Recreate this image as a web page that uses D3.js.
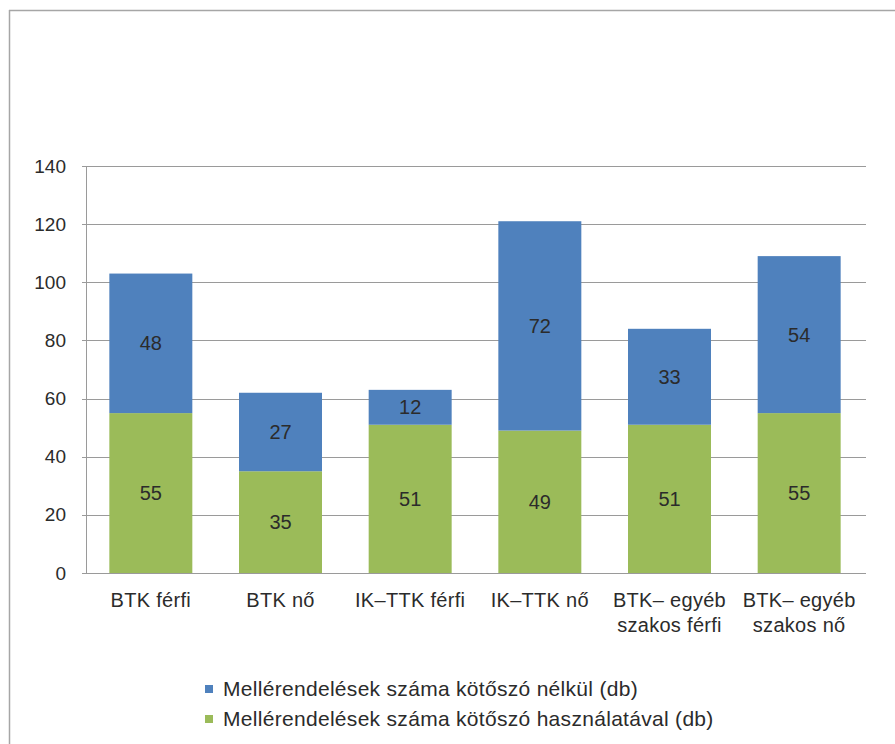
<!DOCTYPE html>
<html lang="hu">
<head>
  <meta charset="UTF-8">
  <title>Mellérendelések</title>
  <style>
    body { margin: 0; background: #fff; }
    svg text { font-family: "Liberation Sans", Arial, sans-serif; fill: #2b2b2b; }
    .axis text { font-size: 19px; }
    .cat text { font-size: 20px; letter-spacing: 0.3px; }
    .label { font-size: 20px; }
    .legend text { font-size: 21px; letter-spacing: 0.3px; }
  </style>
</head>
<body>
  <svg id="chart"></svg>
  <script src="https://d3js.org/d3.v7.min.js"></script>
  <script>
    // data
    const categories = ["BTK férfi", "BTK nő", "IK–TTK férfi", "IK–TTK nő", "BTK– egyéb|szakos férfi", "BTK– egyéb|szakos nő"];
    const withConj = [55, 35, 51, 49, 51, 55];
    const withoutConj = [48, 27, 12, 72, 33, 54];
    const seriesNames = [
      "Mellérendelések száma kötőszó nélkül (db)",
      "Mellérendelések száma kötőszó használatával (db)"
    ];
    const yTicks = [0, 20, 40, 60, 80, 100, 120, 140];

    const W = 895, H = 744;
    const plot = { left: 86, right: 864, top: 166, bottom: 573 };
    const colors = { blue: "#4f81bd", green: "#9bbb59" };

    const svg = d3.select("#chart").attr("width", W).attr("height", H);

    // outer frame (top and left edge only visible)
    svg.append("line").attr("x1", 9).attr("x2", W).attr("y1", 10.5).attr("y2", 10.5)
      .attr("stroke", "#a6a6a6").attr("stroke-width", 1.5);
    svg.append("line").attr("x1", 9.5).attr("x2", 9.5).attr("y1", 10).attr("y2", H)
      .attr("stroke", "#a6a6a6").attr("stroke-width", 1.5);

    const x = d3.scaleBand()
      .domain(categories)
      .range([plot.left, plot.right])
      .paddingInner(0.36)
      .paddingOuter(0.18);

    const y = d3.scaleLinear().domain([0, 140]).range([plot.bottom, plot.top]);

    // y axis labels
    const yAxis = svg.append("g")
      .attr("class", "axis")
      .attr("transform", `translate(${plot.left},0)`)
      .call(d3.axisLeft(y).tickValues(yTicks).tickSize(0).tickPadding(20));
    yAxis.select(".domain").remove();
    yAxis.selectAll("text").attr("fill", "#2b2b2b");

    // gridlines with small ticks on the left
    svg.append("g").selectAll("line")
      .data(yTicks)
      .join("line")
      .attr("x1", plot.left - 4)
      .attr("x2", plot.right + 2)
      .attr("y1", d => Math.round(y(d)) + 0.5)
      .attr("y2", d => Math.round(y(d)) + 0.5)
      .attr("stroke", "#9a9a9a")
      .attr("stroke-width", 1);

    svg.append("line")
      .attr("x1", plot.left + 0.5).attr("x2", plot.left + 0.5)
      .attr("y1", plot.top).attr("y2", plot.bottom)
      .attr("stroke", "#9a9a9a");

    // stacked bars
    const rows = categories.map((c, i) => ({ cat: c, a: withConj[i], b: withoutConj[i] }));
    const stack = d3.stack().keys(["a", "b"])(rows);
    const fill = [colors.green, colors.blue];

    stack.forEach((layer, li) => {
      const g = svg.append("g");
      g.selectAll("rect")
        .data(layer)
        .join("rect")
        .attr("x", d => x(d.data.cat))
        .attr("width", x.bandwidth())
        .attr("y", d => y(d[1]))
        .attr("height", d => y(d[0]) - y(d[1]))
        .attr("fill", fill[li]);
      g.selectAll("text")
        .data(layer)
        .join("text")
        .attr("class", "label")
        .attr("x", d => x(d.data.cat) + x.bandwidth() / 2)
        .attr("y", d => y((d[0] + d[1]) / 2))
        .attr("dy", "0.35em")
        .attr("text-anchor", "middle")
        .attr("fill", "#1a1a1a")
        .text(d => d[1] - d[0]);
    });

    // category labels (| marks a line break)
    const xl = svg.append("g").attr("class", "cat");
    categories.forEach(c => {
      const cx = x(c) + x.bandwidth() / 2;
      const t = xl.append("text")
        .attr("x", cx)
        .attr("y", 607)
        .attr("text-anchor", "middle");
      c.split("|").forEach((part, i) => {
        t.append("tspan")
          .attr("x", cx)
          .attr("dy", i === 0 ? 0 : 25)
          .text(part);
      });
    });

    // legend
    const legend = svg.append("g").attr("class", "legend").attr("transform", "translate(205,0)");
    const legendY = [689, 719];
    const legendColors = [colors.blue, colors.green];
    seriesNames.forEach((name, i) => {
      legend.append("rect")
        .attr("x", 0).attr("y", legendY[i] - 4)
        .attr("width", 8).attr("height", 8)
        .attr("fill", legendColors[i]);
      legend.append("text")
        .attr("x", 18).attr("y", legendY[i])
        .attr("dy", "0.35em")
        .text(name);
    });
  </script>
</body>
</html>
